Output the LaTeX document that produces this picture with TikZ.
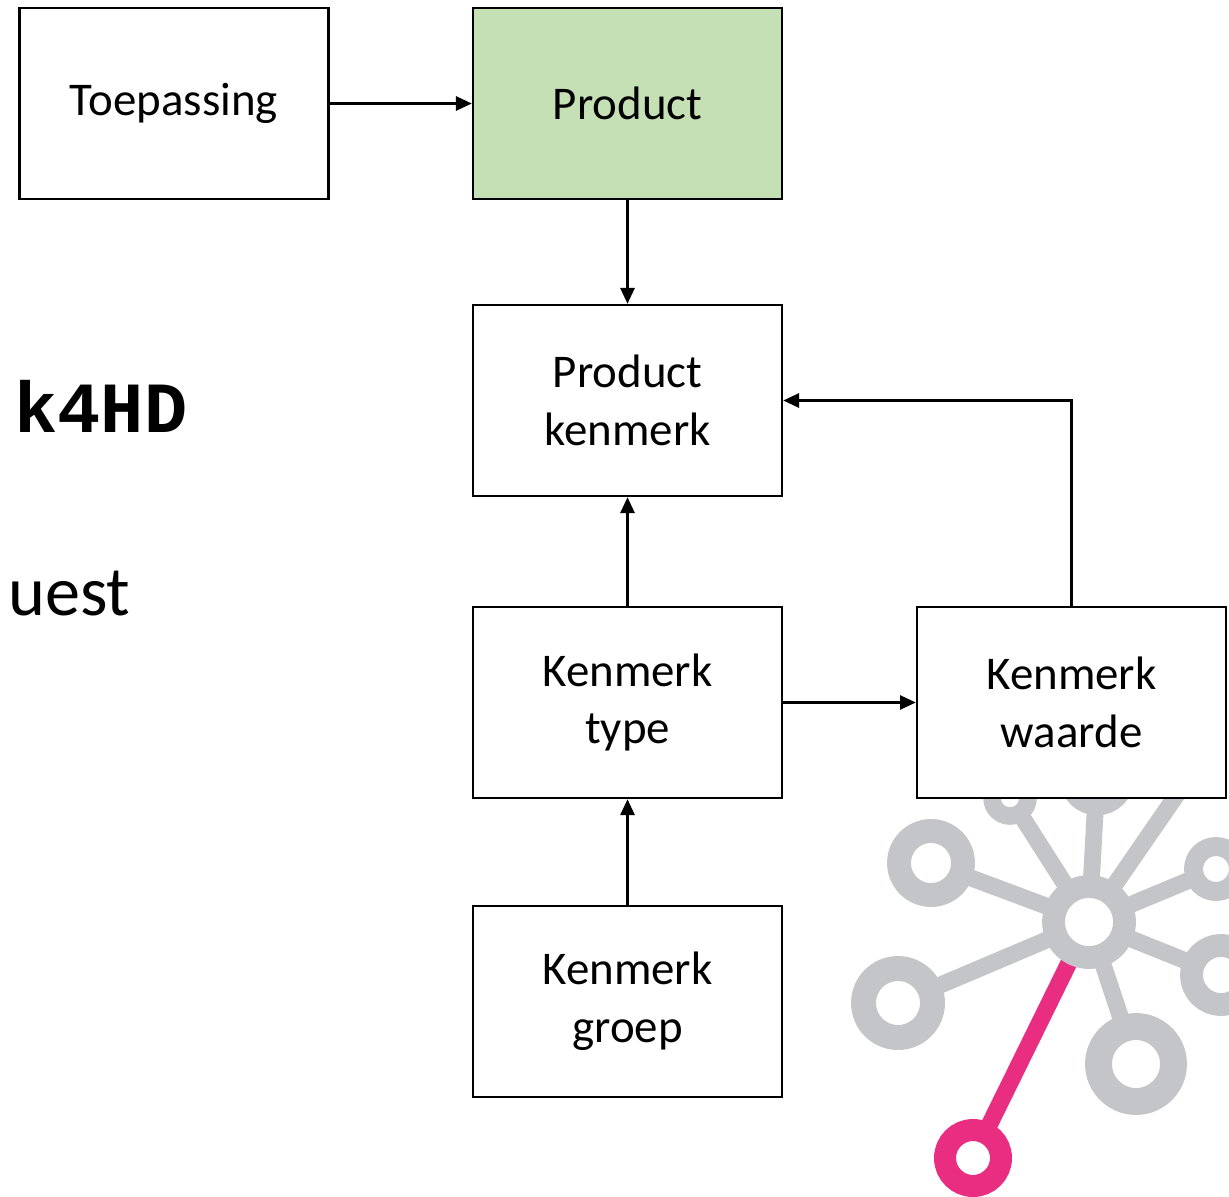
\documentclass[tikz,border=0pt]{standalone}
\usepackage{fontspec}
\setmainfont{Carlito}
\newfontfamily\codefont{Liberation Mono}
\usetikzlibrary{arrows.meta, backgrounds}
\definecolor{productgreen}{HTML}{C5E0B4}
\definecolor{logogray}{HTML}{C3C5C9}
\definecolor{logopink}{HTML}{E92E81}

\begin{document}
\begin{tikzpicture}[x=0.02cm, y=-0.02cm,
    entity/.style = {rectangle, draw, fill=white, line width=1.4pt, minimum width=6.18cm, minimum height=3.82cm, align=center, inner sep=0pt, font=\fontsize{26.7pt}{32.9pt}\selectfont},
    link/.style = {line width=1.4pt, -{Triangle[length=9pt, width=8pt]}},
    ring/.style = {circle, draw=logogray, fill=white, inner sep=0pt, outer sep=0pt},
    spoke/.style = {logogray, line width=9.6pt}]
  \useasboundingbox (0, 0) rectangle (1229, 1196);

  % Logo rings.
  \node at (1089, 922) [ring, line width=13pt, minimum size=1.42cm, name=Hub] {};
  \node at (931, 863) [ring, line width=13.6pt, minimum size=1.28cm, name=RingUpperLeft] {};
  \node at (898, 1003) [ring, line width=14.2pt, minimum size=1.38cm, name=RingLeft] {};
  \node at (1136, 1064) [ring, line width=15.3pt, minimum size=1.5cm, name=RingBottom] {};
  \node at (1221, 975) [ring, line width=13pt, minimum size=1.18cm, name=RingRight] {};
  \node at (1216, 869) [ring, line width=10.8pt, minimum size=0.9cm, name=RingUpperRight] {};
  \node at (1010, 798) [ring, line width=10pt, minimum size=0.72cm, name=RingTopLeft] {};
  \node at (1097, 778) [ring, line width=14pt, minimum size=1.0cm, name=RingTop] {};
  \node at (973, 1158) [ring, draw=logopink, line width=12.5pt, minimum size=1.12cm, name=RingPink] {};
  \coordinate (SpokeEnd) at (1180, 790);

  % Logo spokes.
  \begin{scope}[on background layer]
    \draw [spoke] (Hub.center) to (RingUpperLeft.center);
    \draw [spoke] (Hub.center) to (RingLeft.center);
    \draw [spoke] (Hub.center) to (RingBottom.center);
    \draw [spoke] (Hub.center) to (RingRight.center);
    \draw [spoke] (Hub.center) to (RingUpperRight.center);
    \draw [spoke] (Hub.center) to (RingTopLeft.center);
    \draw [spoke] (Hub.center) to (RingTop.center);
    \draw [spoke] (Hub.center) to (SpokeEnd);
    \draw [spoke, logopink] (Hub.center) to (RingPink.center);
  \end{scope}

  % Entities.
  \node at (174, 103.5) [entity, name=Toepassing] {Toepassing};
  \node at (627.5, 103.5) [entity, fill=productgreen, name=Product] {Product};
  \node at (627.5, 400.5) [entity, name=ProductKenmerk] {Product\\kenmerk};
  \node at (627.5, 702.5) [entity, name=KenmerkType] {Kenmerk\\type};
  \node at (1071.5, 702.5) [entity, name=KenmerkWaarde] {Kenmerk\\waarde};
  \node at (627.5, 1001.5) [entity, name=KenmerkGroep] {Kenmerk\\groep};

  % Cut off text.
  \node at (14, 432) [anchor=base west, inner sep=0pt, font=\codefont\bfseries\fontsize{41pt}{41pt}\selectfont, name=CutCode] {k4HD};
  \node at (8, 615) [anchor=base west, inner sep=0pt, font=\fontsize{40pt}{40pt}\selectfont, name=CutWord] {uest};

  % Relations.
  \draw [link] (Toepassing) to (Product);
  \draw [link] (Product) to (ProductKenmerk);
  \draw [link] (KenmerkType) to (ProductKenmerk);
  \draw [link] (KenmerkGroep) to (KenmerkType);
  \draw [link] (KenmerkType) to (KenmerkWaarde);
  \draw [link] (KenmerkWaarde) |- (ProductKenmerk);
\end{tikzpicture}
\end{document}
